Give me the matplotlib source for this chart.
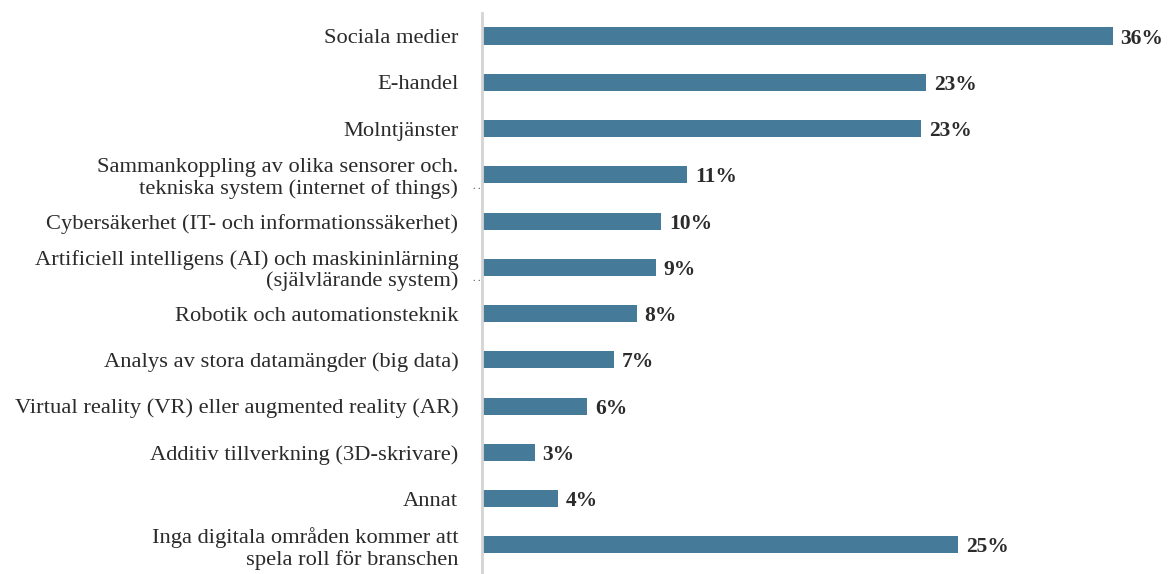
import matplotlib.pyplot as plt
import numpy as np

plt.rcParams['font.family'] = ['Liberation Serif', 'DejaVu Serif']

categories = [
    'Sociala medier',
    'E-handel',
    'Molntjänster',
    'Sammankoppling av olika sensorer och.\ntekniska system (internet of things)',
    'Cybersäkerhet (IT- och informationssäkerhet)',
    'Artificiell intelligens (AI) och maskininlärning\n(självlärande system)',
    'Robotik och automationsteknik',
    'Analys av stora datamängder (big data)',
    'Virtual reality (VR) eller augmented reality (AR)',
    'Additiv tillverkning (3D-skrivare)',
    'Annat',
    'Inga digitala områden kommer att\nspela roll för branschen',
]
# bar lengths as drawn in the original (the printed labels are rounded)
bar_len = [35.9, 25.3, 25.0, 11.7, 10.2, 9.9, 8.8, 7.5, 6.0, 3.0, 4.3, 27.1]
pct_labels = ['36%', '23%', '23%', '11%', '10%', '9%', '8%', '7%', '6%', '3%', '4%', '25%']

bar_color = '#457a99'
text_color = '#2b2b2b'

fig = plt.figure(figsize=(11.69, 5.74), dpi=100)
ax = fig.add_axes([0.4123, 0.0, 0.58, 0.9775])

y = np.arange(len(categories))
ax.barh(y, bar_len, height=0.37, color=bar_color)

for i in range(len(y)):
    ax.text(bar_len[i] + 0.45, y[i], pct_labels[i], va='center_baseline', ha='left',
            fontsize=15.5, fontweight='bold', color=text_color)

ax.set_yticks(y)
ax.set_yticklabels(categories, fontsize=16.2, color=text_color, linespacing=1.12)
ax.tick_params(axis='y', length=0, pad=17)
ax.set_xticks([])

ax.set_xlim(0, 38.6)
ax.set_ylim(11.63, -0.5)

for s in ['top', 'right', 'bottom']:
    ax.spines[s].set_visible(False)
ax.spines['left'].set_color('#d4d4d4')
ax.spines['left'].set_linewidth(2)

# small stray marks next to two of the labels
ax.text(-0.1, 3.25, '. .', ha='right', va='center', fontsize=7, color=text_color)
ax.text(-0.1, 5.25, '. .', ha='right', va='center', fontsize=7, color=text_color)

fig.savefig('out.png', dpi=100)
